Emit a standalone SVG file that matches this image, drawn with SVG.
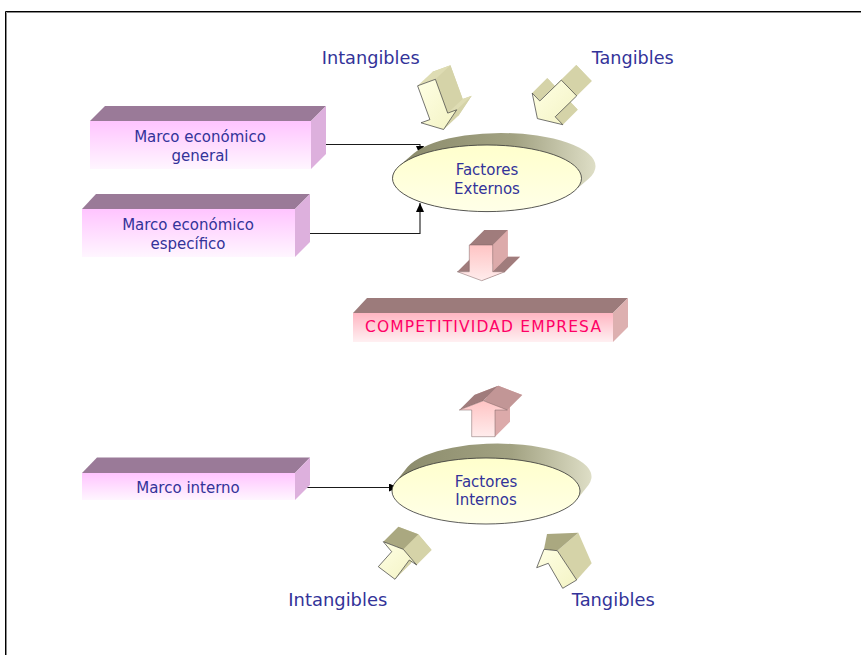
<svg xmlns="http://www.w3.org/2000/svg" width="861" height="655" viewBox="0 0 861 655">
  <defs>
    <style>
      .lbl { font-family: "DejaVu Sans", Verdana, sans-serif; fill: #333399; }
      .big { font-size: 18px; }
      .mid { font-size: 15px; text-anchor: middle; }
      .red { font-family: "DejaVu Sans", Verdana, sans-serif; font-size: 15.5px; fill: #ff0066; text-anchor: middle; }
      .bx-top { fill: #9a7a98; }
      .bx-side { fill: #ddb0dd; }
      .bx-front { fill: url(#gViolet); }
      .cb-top { fill: #9c7b7b; }
      .cb-side { fill: #ddb0b0; }
      .cb-front { fill: url(#gRose); }
      .k-side { fill: #d5d3a8; }
      .k-cap { fill: #aaa880; }
      .k-capl { fill: #dedcb3; }
      .k-front { fill: url(#gCream); stroke: #3a3a3a; stroke-width: 0.7; stroke-linejoin: round; }
      .p-side { fill: #dcaaaa; }
      .p-cap { fill: #a07c7c; }
      .p-capl { fill: #c29696; }
      .p-front { fill: url(#gPink); stroke: #7a6060; stroke-width: 0.5; }
      .rim { fill: url(#gRim); }
      .oval { fill: url(#gOval); stroke: #333; stroke-width: 0.8; }
      .wire { fill: none; stroke: #1a1a1a; stroke-width: 1.1; }
    </style>
    <linearGradient id="gViolet" x1="0" y1="0" x2="0" y2="1">
      <stop offset="0" stop-color="#ffc4ff"/>
      <stop offset="1" stop-color="#fff6ff"/>
    </linearGradient>
    <linearGradient id="gRose" x1="0" y1="0" x2="0" y2="1">
      <stop offset="0" stop-color="#ffb6c2"/>
      <stop offset="1" stop-color="#fff0f2"/>
    </linearGradient>
    <linearGradient id="gCream" x1="0" y1="0" x2="1" y2="1">
      <stop offset="0" stop-color="#ffffe4"/>
      <stop offset="1" stop-color="#f3f3c4"/>
    </linearGradient>
    <linearGradient id="gPink" x1="0" y1="0" x2="0" y2="1">
      <stop offset="0" stop-color="#ffc4c4"/>
      <stop offset="1" stop-color="#ffecec"/>
    </linearGradient>
    <linearGradient id="gRim" x1="0" y1="0" x2="1" y2="0">
      <stop offset="0" stop-color="#8a8a6a"/>
      <stop offset="0.6" stop-color="#a2a282"/>
      <stop offset="1" stop-color="#dedec6"/>
    </linearGradient>
    <linearGradient id="gOval" x1="0" y1="0" x2="0" y2="1">
      <stop offset="0" stop-color="#ffffcc"/>
      <stop offset="1" stop-color="#ffffe8"/>
    </linearGradient>
    <marker id="ah" viewBox="0 0 9 8" refX="9" refY="4" markerWidth="9" markerHeight="8" markerUnits="userSpaceOnUse" orient="auto">
      <path d="M0,0 L9,4 L0,8 z" fill="#000"/>
    </marker>
  </defs>

  <rect width="861" height="655" fill="#fff"/>

  <!-- page frame -->
  <path d="M5.5,655 V11.5 H861" fill="none" stroke="#000" stroke-width="1"/>
  <path d="M6.5,655 V12.5 H861" fill="none" stroke="#8a8a8a" stroke-width="1"/>

  <!-- connectors -->
  <g id="connectors">
    <path class="wire" d="M310,144.5 H420 V155" marker-end="url(#ah)"/>
    <path class="wire" d="M295,233.5 H420 V203" marker-end="url(#ah)"/>
    <path class="wire" d="M301,487.5 H398" marker-end="url(#ah)"/>
  </g>

  <!-- bar: Marco económico general -->
  <g id="marco-general">
    <polygon class="bx-top" points="90,121 105,106 326,106 311,121"/>
    <polygon class="bx-side" points="311,121 326,106 326,154 311,169"/>
    <rect class="bx-front" x="90" y="121" width="221" height="48"/>
    <text class="lbl mid" x="200" y="141.5">Marco económico</text>
    <text class="lbl mid" x="200" y="160.5">general</text>
  </g>

  <!-- bar: Marco económico específico -->
  <g id="marco-especifico">
    <polygon class="bx-top" points="82,209 96,194 310,194 295,209"/>
    <polygon class="bx-side" points="295,209 310,194 310,242 295,257"/>
    <rect class="bx-front" x="82" y="209" width="213" height="48"/>
    <text class="lbl mid" x="188" y="229.5">Marco económico</text>
    <text class="lbl mid" x="188" y="249">específico</text>
  </g>

  <!-- bar: Marco interno -->
  <g id="marco-interno">
    <polygon class="bx-top" points="82,473 97,457.5 310,457.5 295,473"/>
    <polygon class="bx-side" points="295,473 310,457.5 310,485 295,500"/>
    <rect class="bx-front" x="82" y="473" width="213" height="27"/>
    <text class="lbl mid" x="188" y="492.5">Marco interno</text>
  </g>

  <!-- bar: COMPETITIVIDAD EMPRESA -->
  <g id="competitividad">
    <polygon class="cb-top" points="353,313 367,298 628,298 613,313"/>
    <polygon class="cb-side" points="613,313 628,298 628,327 613,342"/>
    <rect class="cb-front" x="353" y="313" width="260" height="29"/>
    <text class="red" x="483" y="331.5" textLength="236" lengthAdjust="spacing">COMPETITIVIDAD EMPRESA</text>
  </g>

  <!-- disc: Factores Externos -->
  <g id="factores-externos">
    <path class="rim" d="M399.6,165.6 L413.6,153.6 A94.5,33.3 0 0 1 588.4,179 L574.4,191 A94.5,33.3 0 0 1 399.6,165.6 Z"/>
    <ellipse class="oval" cx="487" cy="178.3" rx="94.5" ry="33.3"/>
    <text class="lbl mid" x="487" y="174.5">Factores</text>
    <text class="lbl mid" x="487" y="194">Externos</text>
  </g>

  <!-- disc: Factores Internos -->
  <g id="factores-internos">
    <path class="rim" d="M395.5,482.1 L407.5,467.1 A94,33 0 0 1 588.5,484.9 L576.5,499.9 A94,33 0 0 1 395.5,482.1 Z"/>
    <ellipse class="oval" cx="486" cy="491" rx="94" ry="33"/>
    <text class="lbl mid" x="486" y="487">Factores</text>
    <text class="lbl mid" x="486" y="505">Internos</text>
  </g>

  <!-- block arrow: Intangibles (top) -->
  <g id="arrow-intangibles-top">
    <polygon class="k-side" points="432.6,71.8 450.4,65.3 462.7,99.1 471.7,95.8 458.6,115.5 436,108.8 444.9,105.6"/>
    <polygon class="k-side" points="435.4,79.3 447.7,113.1 462.7,99.1 450.4,65.3"/>
    <polygon class="k-side" points="456.7,109.8 443.6,129.5 458.6,115.5 471.7,95.8"/>
    <polygon class="k-capl" points="447.7,113.1 456.7,109.8 471.7,95.8 462.7,99.1"/>
    <polygon class="k-capl" points="417.6,85.8 435.4,79.3 450.4,65.3 432.6,71.8"/>
    <polygon class="k-front" points="417.6,85.8 435.4,79.3 447.7,113.1 456.7,109.8 443.6,129.5 421,122.8 429.9,119.6"/>
  </g>

  <!-- block arrow: Tangibles (top) -->
  <g id="arrow-tangibles-top">
    <polygon class="k-side" points="576.3,65.1 591.7,80.9 570.2,101.8 577.8,109.7 552.4,103.6 547.2,78.1 554.8,86"/>
    <polygon class="k-side" points="561.3,80.1 576.7,95.9 591.7,80.9 576.3,65.1"/>
    <polygon class="k-side" points="555.2,116.8 562.8,124.7 577.8,109.7 570.2,101.8"/>
    <polygon class="k-side" points="532.2,93.1 539.8,101 554.8,86 547.2,78.1"/>
    <polygon class="k-front" points="561.3,80.1 576.7,95.9 555.2,116.8 562.8,124.7 537.4,118.6 532.2,93.1 539.8,101"/>
  </g>

  <!-- block arrow: down into COMPETITIVIDAD -->
  <g id="arrow-down">
    <polygon class="p-side" points="484.3,230 507.7,230 507.7,256.7 520,256.7 496.7,265.7 472.3,256.7 484.3,256.7"/>
    <polygon class="p-side" points="492.7,245 507.7,230 507.7,256.7 492.7,271.7"/>
    <polygon class="p-side" points="505,271.7 481.7,280.7 496.7,265.7 520,256.7"/>
    <polygon class="p-cap" points="469.3,245 492.7,245 507.7,230 484.3,230"/>
    <polygon class="p-cap" points="457.3,271.7 469.3,271.7 484.3,256.7 472.3,256.7"/>
    <polygon class="p-cap" points="492.7,271.7 505,271.7 520,256.7 507.7,256.7"/>
    <polygon class="p-front" points="469.3,245 492.7,245 492.7,271.7 505,271.7 481.7,280.7 457.3,271.7 469.3,271.7"/>
  </g>

  <!-- block arrow: up from Factores Internos -->
  <g id="arrow-up">
    <polygon class="p-side" points="486.7,421.7 486.7,395 474.3,395 498.3,385.7 522.3,395 510,395 510,421.7"/>
    <polygon class="p-side" points="495,410 510,395 510,421.7 495,436.7"/>
    <polygon class="p-cap" points="459.3,410 483.3,400.7 498.3,385.7 474.3,395"/>
    <polygon class="p-capl" points="483.3,400.7 507.3,410 522.3,395 498.3,385.7"/>
    <polygon class="p-front" points="471.7,436.7 471.7,410 459.3,410 483.3,400.7 507.3,410 495,410 495,436.7"/>
  </g>

  <!-- block arrow: Intangibles (bottom) -->
  <g id="arrow-intangibles-bottom">
    <polygon class="k-side" points="398.3,526.7 418.3,534.3 431.7,550 424.3,545 410,564.3 393.3,551.7 406.7,536.7"/>
    <polygon class="k-side" points="403.3,549.3 416.7,565 431.7,550 418.3,534.3"/>
    <polygon class="k-side" points="409.3,560 395,579.3 410,564.3 424.3,545"/>
    <polygon class="k-cap" points="383.3,541.7 403.3,549.3 418.3,534.3 398.3,526.7"/>
    <polygon class="k-front" points="383.3,541.7 403.3,549.3 416.7,565 409.3,560 395,579.3 378.3,566.7 391.7,551.7"/>
  </g>

  <!-- block arrow: Tangibles (bottom) -->
  <g id="arrow-tangibles-bottom">
    <polygon class="k-side" points="557.3,550.7 578.3,532.7 591.7,563.3 576.7,580"/>
    <polygon class="k-cap" points="544,549.3 547,534 578.3,532.7 557.3,550.7"/>
    <polygon class="k-front" points="536.7,567.7 544,549.3 557.3,550.7 576.7,580 562.7,588.3 548.3,563.3"/>
  </g>

  <!-- labels -->
  <g id="labels">
    <text class="lbl big" x="321.7" y="64" textLength="98" lengthAdjust="spacingAndGlyphs">Intangibles</text>
    <text class="lbl big" x="591.7" y="64" textLength="82" lengthAdjust="spacingAndGlyphs">Tangibles</text>
    <text class="lbl big" x="288.3" y="606" textLength="99" lengthAdjust="spacingAndGlyphs">Intangibles</text>
    <text class="lbl big" x="571.7" y="606" textLength="83" lengthAdjust="spacingAndGlyphs">Tangibles</text>
  </g>
</svg>
